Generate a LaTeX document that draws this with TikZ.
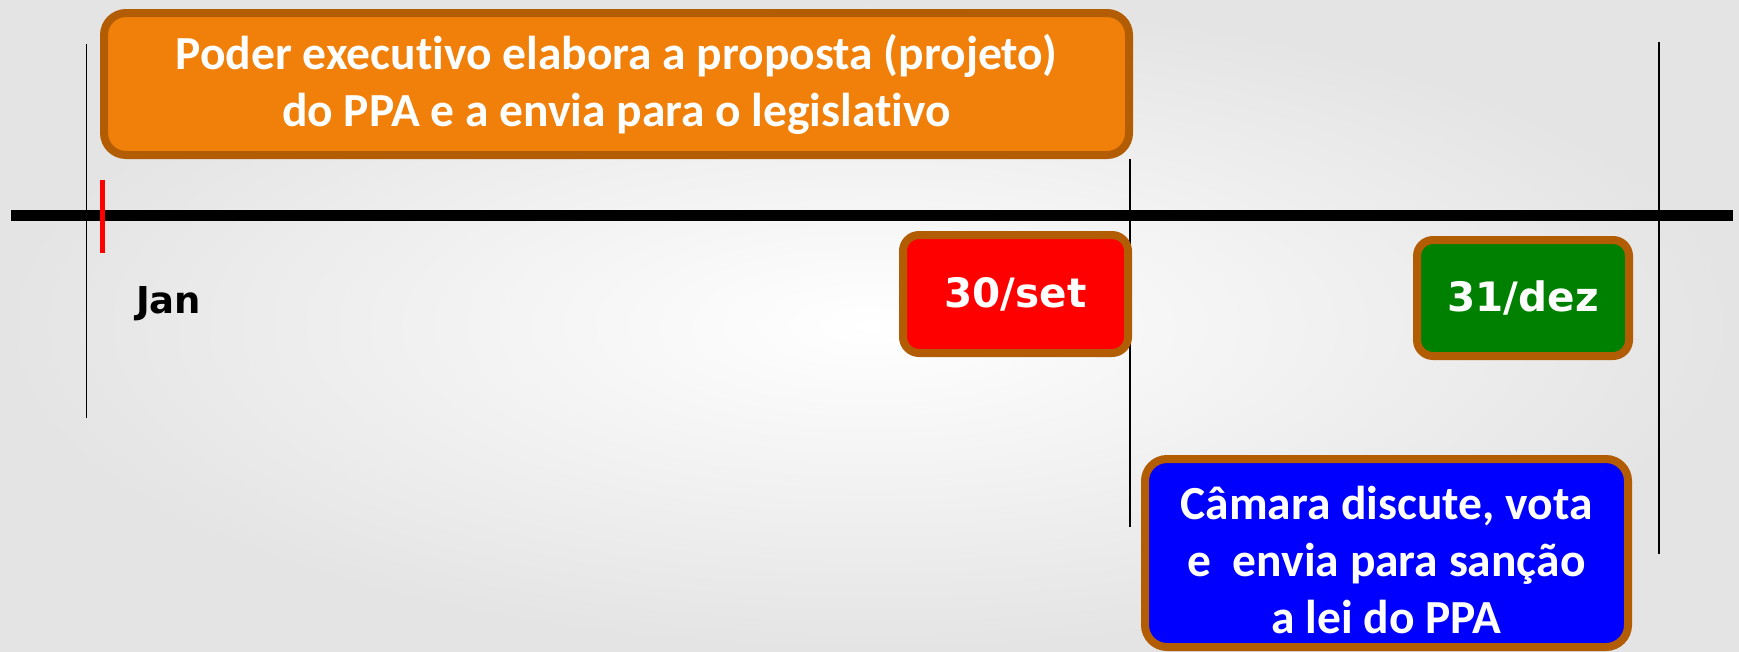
\documentclass[tikz,border=0pt]{standalone}
\usepackage{fontspec}
\setmainfont{Carlito}[Ligatures=NoCommon]
\newfontfamily\verd{DejaVu Sans}
\definecolor{brd}{RGB}{178,92,4}
\definecolor{orfill}{RGB}{240,128,10}
\definecolor{bggray}{RGB}{228,228,228}
\begin{document}
\begin{tikzpicture}[x=1pt,y=-1pt,
  box/.style={draw=brd, line width=8pt, rounded corners=22pt, inner sep=0pt, text=white, align=center},
  bigtext/.style={font=\bfseries\fontsize{47.5}{57}\selectfont},
  datetext/.style={font=\verd\bfseries\fontsize{40.5}{46}\selectfont},
  vline/.style={line width=1.6pt, black},
]
\useasboundingbox (0,0) rectangle (1739,651);
\shade[inner color=white, outer color=bggray] (0,0) rectangle (1739,651);
% timeline and guide lines
\coordinate (tlA) at (11,215);
\coordinate (tlB) at (1733,215);
\coordinate (l1a) at (86.5,44);
\coordinate (l1b) at (86.5,418);
\coordinate (l2a) at (1130,159);
\coordinate (l2b) at (1130,527);
\coordinate (l3a) at (1659,42);
\coordinate (l3b) at (1659,554);
\coordinate (tka) at (102,180);
\coordinate (tkb) at (102,253);
\draw[vline] (l1a) -- (l1b);
\draw[vline] (l2a) -- (l2b);
\draw[vline] (l3a) -- (l3b);
\draw[line width=11pt, black] (tlA) -- (tlB);
\draw[line width=5pt, red] (tka) -- (tkb);
% boxes
\node[box, fill=orfill, bigtext, minimum width=1025pt, minimum height=142pt] (exec) at (616.5,84)
  {Poder executivo elabora a proposta (projeto)\\do PPA e a envia para o legislativo};
\node[box, fill=red, datetext, rounded corners=16pt, minimum width=225pt, minimum height=118pt] (set) at (1015.5,294) {30/set};
\node[box, fill={rgb,255:red,0;green,128;blue,0}, datetext, rounded corners=16pt, minimum width=212pt, minimum height=116pt] (dez) at (1523,298) {31/dez};
\node[box, fill=blue, bigtext, minimum width=483pt, minimum height=188pt] (cam) at (1386.5,553)
  {\raisebox{-7pt}[\height][\depth]{\parbox{480pt}{\centering Câmara discute, vota\\e\ \ envia para sanção\\a lei do PPA}}};
\node[font=\verd\bfseries\fontsize{37}{42}\selectfont, anchor=west, inner sep=0pt] (jan) at (136,304) {Jan};
\end{tikzpicture}
\end{document}
